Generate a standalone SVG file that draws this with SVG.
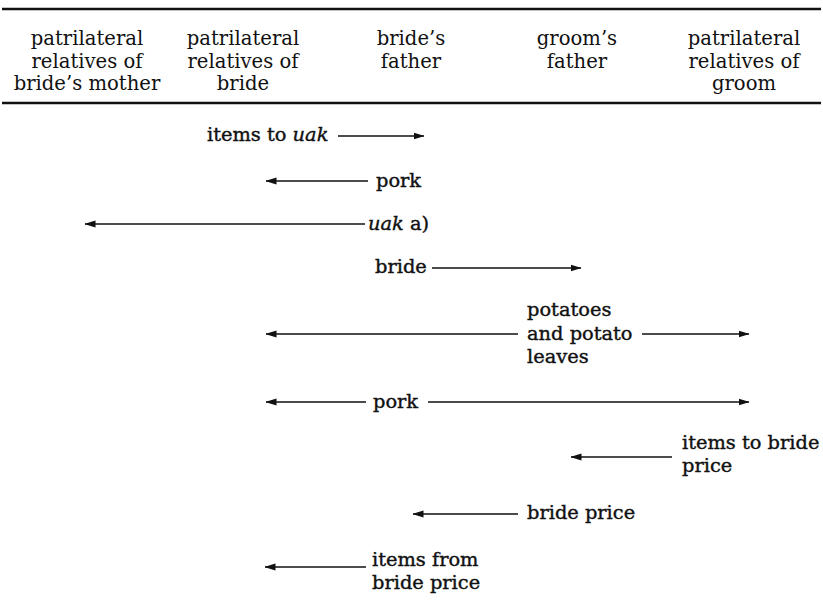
<svg xmlns="http://www.w3.org/2000/svg" width="823" height="611" viewBox="0 0 823 611">
<defs>
<style>
text{font-family:"DejaVu Serif","Liberation Serif",serif;fill:#111;}
.h{font-size:19.6px;text-anchor:middle;}
.b{font-size:19.4px;stroke:#111;stroke-width:0.4px;}
.i{font-style:italic;}
.ln{stroke:#111;stroke-width:1.7;fill:none;}
.rule{stroke:#111;stroke-width:2.6;}
</style>
<marker id="ah" viewBox="0 0 11 8" refX="10.5" refY="4" markerWidth="11" markerHeight="8" markerUnits="userSpaceOnUse" orient="auto">
<path d="M0,0.6 L11,4 L0,7.4 Z" fill="#111"/>
</marker>
</defs>
<rect width="823" height="611" fill="#fff"/>
<g id="rules">
<line class="rule" x1="2" y1="9" x2="821" y2="9"/>
<line class="rule" x1="2" y1="103" x2="821" y2="103"/>
</g>
<g id="col1"><text class="h" x="87" y="45">patrilateral</text><text class="h" x="87" y="68">relatives  of</text><text class="h" x="87" y="90">bride’s mother</text></g>
<g id="col2"><text class="h" x="243" y="45">patrilateral</text><text class="h" x="243" y="68">relatives  of</text><text class="h" x="243" y="90">bride</text></g>
<g id="col3"><text class="h" x="411" y="45">bride’s</text><text class="h" x="411" y="68">father</text></g>
<g id="col4"><text class="h" x="577" y="45">groom’s</text><text class="h" x="577" y="68">father</text></g>
<g id="col5"><text class="h" x="744" y="45">patrilateral</text><text class="h" x="744" y="68">relatives  of</text><text class="h" x="744" y="90">groom</text></g>
<g id="labels">
<text class="b" x="207" y="141">items to <tspan class="i">uak</tspan></text>
<text class="b" x="376" y="187">pork</text>
<text class="b" x="368" y="230"><tspan class="i">uak</tspan> a)</text>
<text class="b" x="375" y="273">bride</text>
<text class="b" x="527" y="316">potatoes</text>
<text class="b" x="527" y="340">and potato</text>
<text class="b" x="527" y="363">leaves</text>
<text class="b" x="373" y="408">pork</text>
<text class="b" x="682" y="449">items to bride</text>
<text class="b" x="682" y="472">price</text>
<text class="b" x="527" y="519">bride price</text>
<text class="b" x="372" y="566">items from</text>
<text class="b" x="372" y="589">bride price</text>
</g>
<g id="connectors">
<line class="ln" x1="338" y1="136" x2="424" y2="136" marker-end="url(#ah)"/>
<line class="ln" x1="368" y1="181" x2="266" y2="181" marker-end="url(#ah)"/>
<line class="ln" x1="365" y1="224" x2="85" y2="224" marker-end="url(#ah)"/>
<line class="ln" x1="432" y1="268" x2="581" y2="268" marker-end="url(#ah)"/>
<line class="ln" x1="518" y1="334" x2="266" y2="334" marker-end="url(#ah)"/>
<line class="ln" x1="642" y1="334" x2="749" y2="334" marker-end="url(#ah)"/>
<line class="ln" x1="366" y1="402" x2="266" y2="402" marker-end="url(#ah)"/>
<line class="ln" x1="428" y1="402" x2="749" y2="402" marker-end="url(#ah)"/>
<line class="ln" x1="672" y1="457" x2="571" y2="457" marker-end="url(#ah)"/>
<line class="ln" x1="518" y1="514" x2="413" y2="514" marker-end="url(#ah)"/>
<line class="ln" x1="366" y1="567" x2="265" y2="567" marker-end="url(#ah)"/>
</g>
</svg>
